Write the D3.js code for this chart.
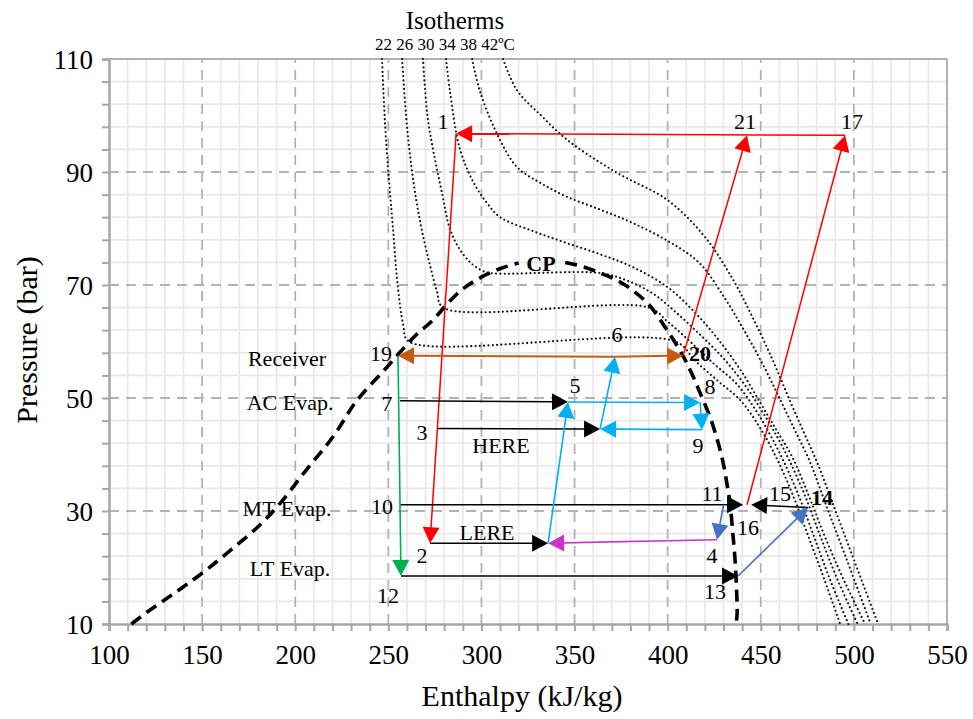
<!DOCTYPE html>
<html><head><meta charset="utf-8">
<script src="https://cdn.jsdelivr.net/npm/d3@7"></script>
<style>body{margin:0;background:#fff} text{font-family:"Liberation Serif","Times New Roman",serif;fill:#000}</style>
</head><body><svg id="c" width="973" height="719"></svg>
<script>
// ---------- data ----------
const xTicks = [100,150,200,250,300,350,400,450,500,550];
const yTicks = [10,30,50,70,90,110];
const isoTemps = ["22","26","30","34","38","42"];
const domeLeft = [[112,10],[120,12],[130,14.3],[140,16.6],[152,19.5],[165,23],[180,27.2],[192,31.4],[206,37.3],[220,43],[233,49.5],[248,55],[256,58],[265,61.2],[274,63.8],[282,66.8],[290,69.3],[300,71.4],[311,73],[320,73.9]];
const domeRight = [[345,74],[355,73.2],[364,72.1],[373,70.8],[381,69.1],[390,66.5],[399.7,62],[408,57.6],[413,54.3],[417.4,50.9],[422.8,46.6],[427,42.2],[429.8,38.5],[432,34.5],[433.5,31.4],[435,26],[436.2,21.3],[437,16],[437.3,12],[436.8,10]];
const iso22 = [[246.6,110],[248,100],[250,90],[252.5,80],[255,70],[258,63],[261,60],[404,60],[415,56.5],[427,53],[439,49.6],[450,44.5],[459,39],[467,33],[475,26],[484,18],[492.6,10]];
const iso26 = [[257.4,110],[259.5,100],[262,92],[265,85],[268,79.7],[272,74],[276,69],[279.4,66],[390,66],[400,63.5],[412,60],[425,56],[437,52.5],[447,48],[455,43.5],[462,39],[470,33],[478,26],[487,18],[497,10]];
const iso30 = [[268.6,110],[271,100],[274,94],[279,86],[283,80],[288,76.5],[294,74],[300,72.6],[305,72.1],[364,72.1],[378,70.8],[392,68.5],[405,65],[418,61],[430,57],[441,52.5],[451,47.5],[459,43],[466,38.5],[474,32.5],[482,25.5],[491,18],[502,10]];
const iso34 = [[281,110],[283,104.5],[288.5,94],[296,88],[303,84.5],[310,82],[328,79.5],[346,77.4],[364,75.4],[381,73.2],[400,69.6],[415,65],[428,60],[440,54.5],[450,49],[459,44],[467,39.5],[476,32.5],[485,25],[495,17.5],[506,10]];
const iso38 = [[295,110],[299,104.5],[308,97],[319,90.9],[332,88],[346,85.6],[364,83.3],[381,81],[400,77.8],[417,73.9],[430,68],[441,62],[451,56],[460,50],[468,44.5],[476,39],[484,32],[492,25],[500,18],[509,10]];
const iso42 = [[311.6,110],[319,104.5],[332,100],[346,95.7],[372,90],[400,85],[420,78.5],[435,71],[446,64],[456,57],[465,50],[473,44],[481,38],[489,31],[497,24],[505,17],[513,10]];
const isotherms = [iso22, iso26, iso30, iso34, iso38, iso42];

// state points: name, enthalpy (kJ/kg), pressure (bar)
const statePoints = [
  ["1",286.4,96.8],["2",272.4,24.3],["3",276.7,44.6],["4",426.5,24.9],["4s",430,31.1],
  ["5",346.5,49.3],["6",371.8,57.3],["7",256.3,49.5],["8",417.4,49.2],["9",418.5,44.4],
  ["10",256.3,31.1],["11",440.5,31.1],["12",256.8,18.5],["13",437.8,18.5],["14",475.4,30.6],
  ["15",444.8,31.1],["16",442.6,31.1],["17",495.3,96.5],["19",255.2,57.5],["20",408.3,57.5],
  ["21",442.6,96.5],["LERE",335.8,24.3],["HERE",363.7,44.5]
];
// process arrows (from -> to), grouped by stream
const redArrows = [["17","1"],["1","2"],["20","21"],["16","17"]];
const blackArrows = [["2","LERE"],["3","HERE"],["7","5"],["10","11"],["14","15"],["12","13"]];
const cyanArrows = [["LERE","5"],["HERE","6"],["5","8"],["8","9"],["9","HERE"]];
const steelArrows = [["13","14"],["4s","4"]];
const magentaArrows = [["4","LERE"]];
const orangeArrows = [["6","19"],["6","20"]];
const greenArrows = [["19","12"]];
// text labels: text, enthalpy, pressure (label centre)
const pointLabels = [
  ["1",279.4,99.0],["21",441.5,99.0],["17",499.0,99.0],["19",246.1,58.0],["7",249.3,49.1],
  ["3",268.1,44.0],["HERE",310.5,41.7],["5",350.2,52.3],["6",372.8,61.2],["8",422.7,52.0],
  ["9",416.3,41.7],["10",246.6,30.9],["LERE",303.0,26.3],["2",268.1,22.2],["12",249.8,15.1],
  ["11",423.8,33.2],["15",460.3,33.2],["16",443.1,27.2],["4",423.8,22.2],["13",425.4,15.7]
];
const boldLabels = [["CP",332.0,73.9],["20",417.4,58.0],["14",482.9,32.5]];
const sideLabels = [["Receiver",195.6,57.1],["AC Evap.",197.2,49.3],["MT Evap.",195.6,30.5],["LT Evap.",197.2,19.9]];

// ---------- drawing ----------
const svg = d3.select("#c");
const x = d3.scaleLinear().domain([100,550]).range([109,947]);
const y = d3.scaleLinear().domain([10,110]).range([624,59]);

const grid = svg.append("g");
grid.selectAll(".mx").data(d3.range(100,551,10).filter(v=>v%50!==0)).join("line")
  .attr("x1",d=>x(d)).attr("x2",d=>x(d)).attr("y1",y(10)).attr("y2",y(110))
  .attr("stroke","#e8e8e8").attr("stroke-width",1.7);
grid.selectAll(".my").data(d3.range(10,111,4).filter(v=>(v-10)%20!==0)).join("line")
  .attr("y1",d=>y(d)).attr("y2",d=>y(d)).attr("x1",x(100)).attr("x2",x(550))
  .attr("stroke","#e8e8e8").attr("stroke-width",1.7);
grid.selectAll(".Mx").data(xTicks.slice(1,-1)).join("line")
  .attr("x1",d=>x(d)).attr("x2",d=>x(d)).attr("y1",y(10)).attr("y2",y(110))
  .attr("stroke","#b3b3b3").attr("stroke-width",1.8).attr("stroke-dasharray","10,7");
grid.selectAll(".My").data(yTicks.slice(1,-1)).join("line")
  .attr("y1",d=>y(d)).attr("y2",d=>y(d)).attr("x1",x(100)).attr("x2",x(550))
  .attr("stroke","#b3b3b3").attr("stroke-width",1.8).attr("stroke-dasharray","10,7");
svg.append("line").attr("x1",x(100)).attr("x2",x(550)).attr("y1",y(110)).attr("y2",y(110)).attr("stroke","#b0b0b0").attr("stroke-width",2);
svg.append("line").attr("x1",x(550)).attr("x2",x(550)).attr("y1",y(10)).attr("y2",y(110)).attr("stroke","#b0b0b0").attr("stroke-width",2);

const xAxis = svg.append("g").attr("transform",`translate(0,${y(10)})`)
  .call(d3.axisBottom(x).tickValues(d3.range(100,551,10)).tickSize(7).tickFormat(d=>xTicks.includes(d)?d:""));
const yAxis = svg.append("g").attr("transform",`translate(${x(100)},0)`)
  .call(d3.axisLeft(y).tickValues(d3.range(10,111,4)).tickSize(7).tickFormat(d=>yTicks.includes(d)?d:""));
[xAxis,yAxis].forEach(a=>{
  a.select(".domain").attr("stroke","#a6a6a6").attr("stroke-width",2.5);
  a.selectAll(".tick line").attr("stroke","#a6a6a6").attr("stroke-width",2);
  a.selectAll(".tick text").attr("font-family","Liberation Serif").attr("font-size",27).attr("fill","#000");
});
xAxis.selectAll(".tick text").attr("dy","0").attr("y",40);
yAxis.selectAll(".tick text").attr("x",-16).attr("dy","0.35em");

svg.append("text").attr("x",522).attr("y",706).attr("text-anchor","middle").attr("font-size",30).text("Enthalpy (kJ/kg)");
svg.append("text").attr("transform","translate(37,340) rotate(-90)").attr("text-anchor","middle").attr("font-size",30).text("Pressure (bar)");
svg.append("text").attr("x",455).attr("y",29).attr("text-anchor","middle").attr("font-size",25).text("Isotherms");
svg.append("text").attr("x",445).attr("y",50).attr("text-anchor","middle").attr("font-size",17).text(isoTemps.join(" ")+"ºC");

const lineC = d3.line().x(d=>x(d[0])).y(d=>y(d[1])).curve(d3.curveCatmullRom.alpha(0.5));

svg.append("g").selectAll("path").data(isotherms).join("path")
  .attr("d",d=>lineC(d)).attr("fill","none").attr("stroke","#111").attr("stroke-width",2.2)
  .attr("stroke-linecap","round").attr("stroke-dasharray","0,4.3");

[domeLeft,domeRight].forEach(d=>{
  svg.append("path").attr("d",lineC(d)).attr("fill","none").attr("stroke","#000")
    .attr("stroke-width",3.6).attr("stroke-dasharray","12,7");
});

const P = Object.fromEntries(statePoints.map(p=>[p[0],[p[1],p[2]]]));
function drawArrows(list,color,w){
  const g = svg.append("g");
  list.forEach(([a,b])=>{
    const x1=x(P[a][0]),y1=y(P[a][1]),x2=x(P[b][0]),y2=y(P[b][1]);
    const dx=x2-x1,dy=y2-y1,L=Math.hypot(dx,dy),ux=dx/L,uy=dy/L;
    const hl=16,hw=8.5;
    const bx=x2-ux*hl,by=y2-uy*hl;
    g.append("line").attr("x1",x1).attr("y1",y1).attr("x2",bx+ux*2).attr("y2",by+uy*2)
      .attr("stroke",color).attr("stroke-width",w);
    g.append("path").attr("d",`M${x2},${y2}L${bx-uy*hw},${by+ux*hw}L${bx+uy*hw},${by-ux*hw}Z`).attr("fill",color);
  });
}
drawArrows(redArrows,"#ff0000",1.5);
drawArrows(blackArrows,"#000000",1.5);
drawArrows(cyanArrows,"#00b0f0",1.6);
drawArrows(steelArrows,"#4472c4",1.6);
drawArrows(magentaArrows,"#cc33cc",1.6);
drawArrows(orangeArrows,"#c55a11",2);
drawArrows(greenArrows,"#00b050",1.6);

const lab = svg.append("g").attr("font-size",22).attr("text-anchor","middle");
lab.selectAll(".pl").data(pointLabels).join("text").attr("x",d=>x(d[1])).attr("y",d=>y(d[2])).attr("dy","0.35em").text(d=>d[0]);
lab.selectAll(".bl").data(boldLabels).join("text").attr("x",d=>x(d[1])).attr("y",d=>y(d[2])).attr("dy","0.35em").attr("font-weight","bold").text(d=>d[0]);
lab.selectAll(".sl").data(sideLabels).join("text").attr("x",d=>x(d[1])).attr("y",d=>y(d[2])).attr("dy","0.35em").text(d=>d[0]);
</script></body></html>
